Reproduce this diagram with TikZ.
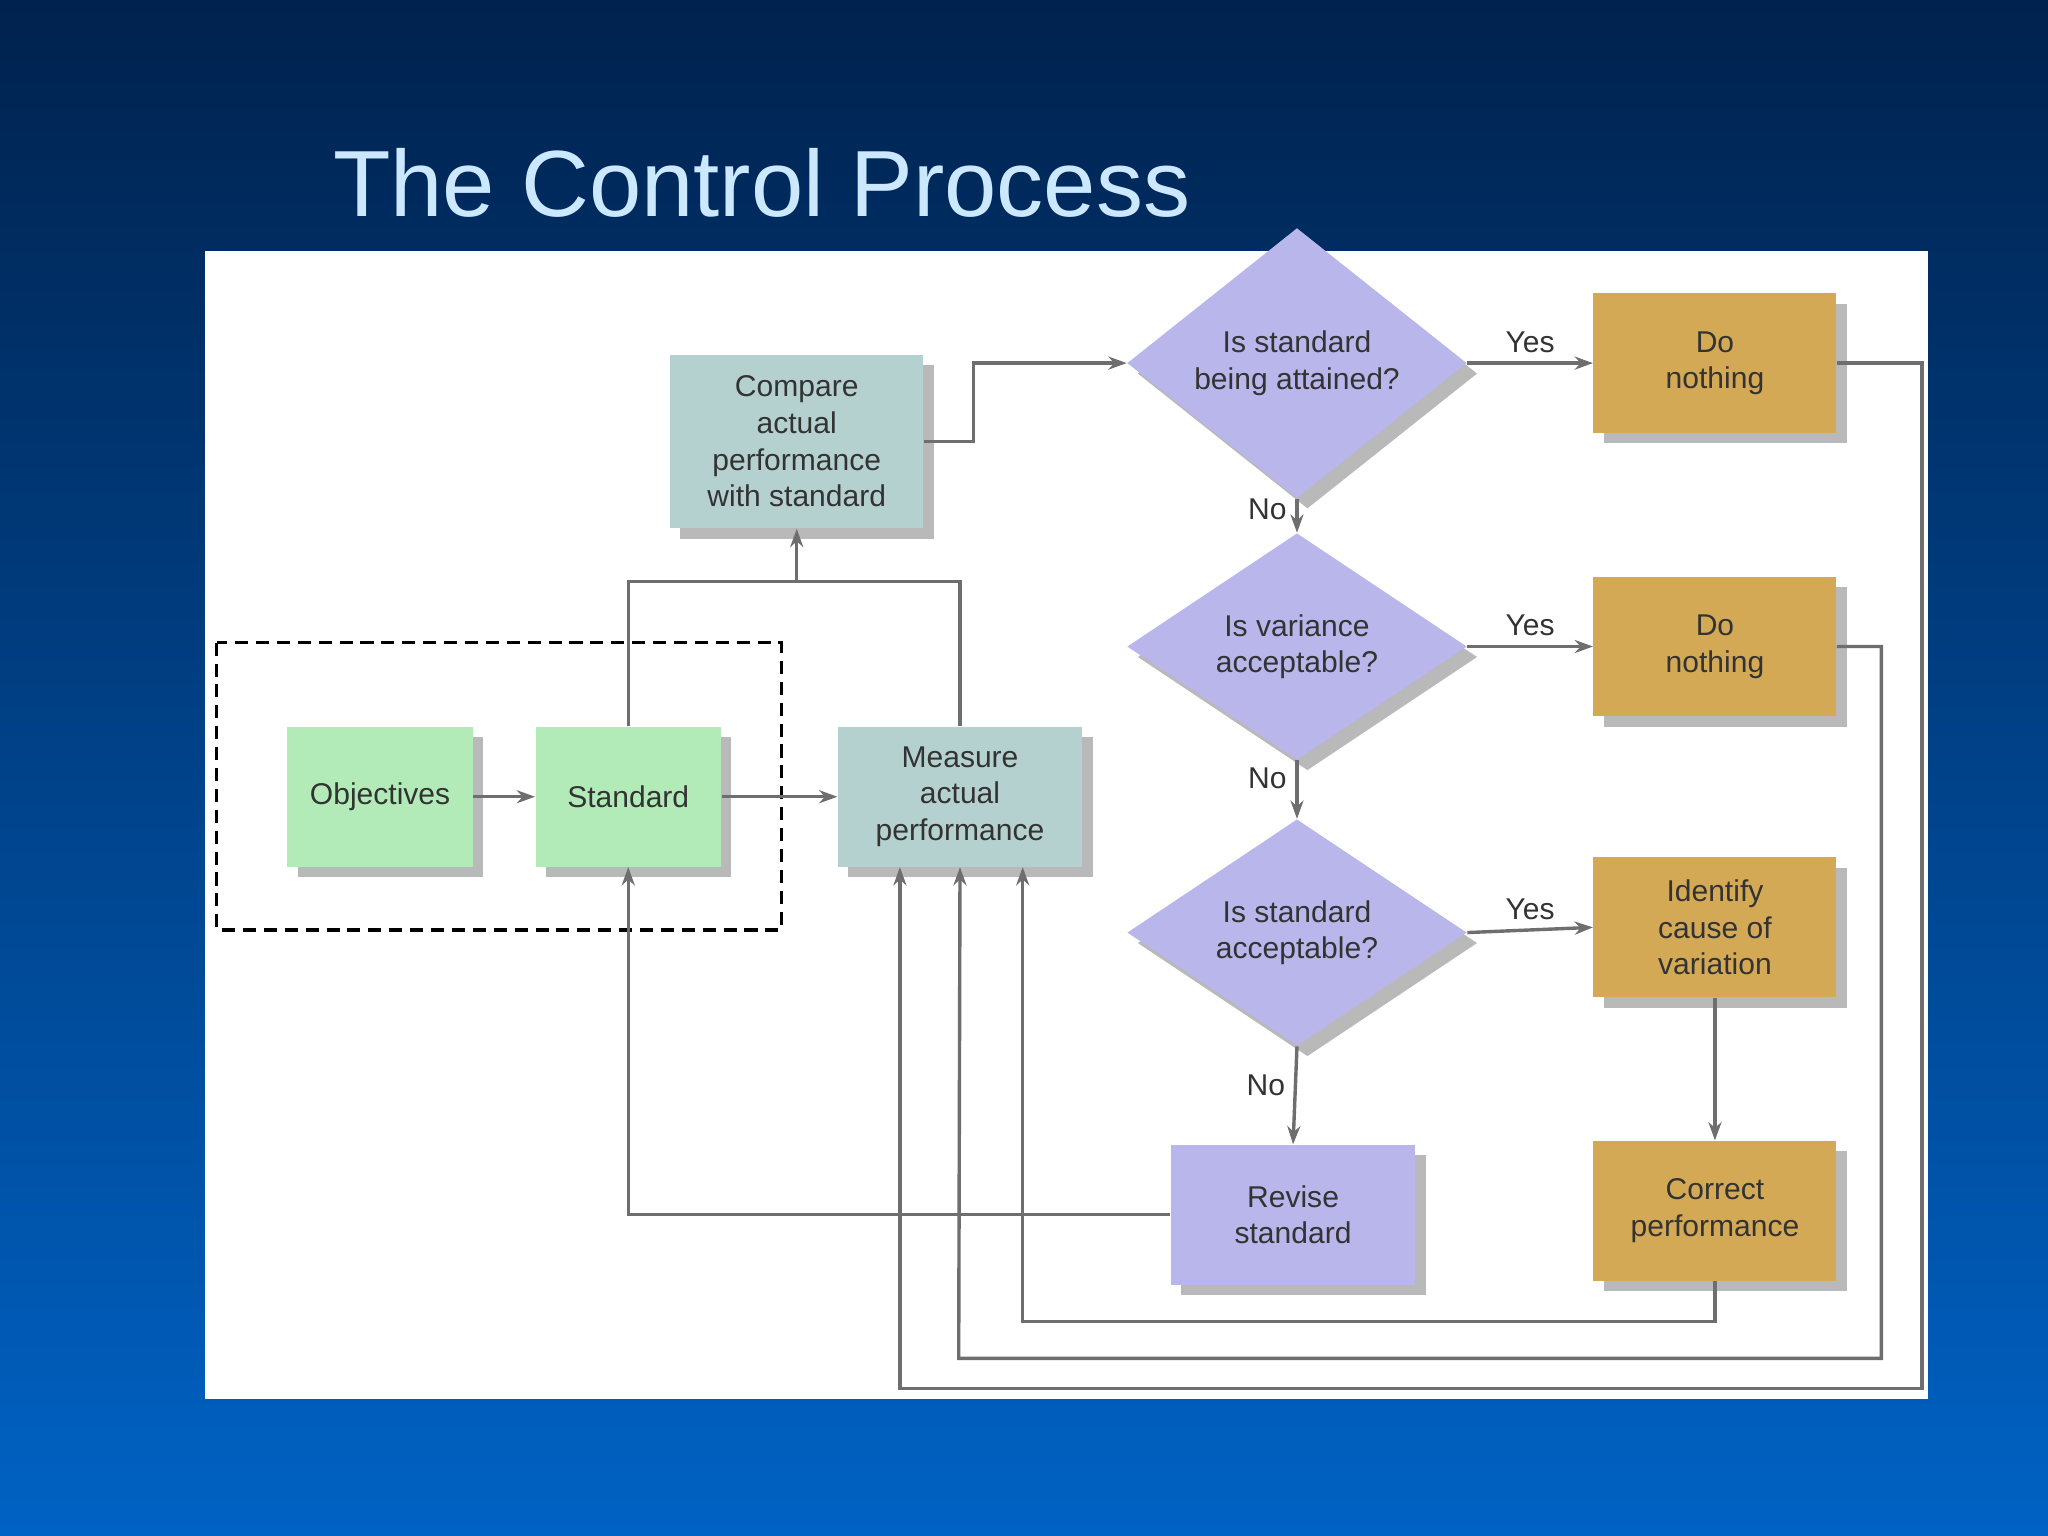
\documentclass[tikz,border=0pt]{standalone}
\usepackage{fontspec}
\setmainfont{Liberation Sans}
\usetikzlibrary{shapes.geometric,shadows,arrows.meta,calc}
\definecolor{grn}{HTML}{B3EBB8}
\definecolor{teal}{HTML}{B5D1CF}
\definecolor{lav}{HTML}{B8B6EA}
\definecolor{gold}{HTML}{D4A956}
\definecolor{ln}{HTML}{6E6E6E}
\definecolor{txt}{HTML}{333333}
\begin{document}
\begin{tikzpicture}[x=0.5pt,y=-0.5pt,
  box/.style={rectangle,draw=none,align=center,text=txt,font=\fontsize{11.5}{14}\selectfont,
    inner sep=0pt,drop shadow={shadow xshift=4pt,shadow yshift=-4pt,fill=gray!55,opacity=1}},
  dia/.style={diamond,fill=lav,align=center,text=txt,font=\fontsize{11.5}{14}\selectfont,
    inner sep=0pt,minimum width=130pt,minimum height=81pt,
    drop shadow={shadow xshift=4pt,shadow yshift=-4pt,fill=gray!55,opacity=1}},
  con/.style={draw=ln,line width=1.3pt},
  arr/.style={con,-{Stealth[length=7pt,width=5pt]}},
  lab/.style={text=txt,font=\fontsize{11.5}{14}\selectfont}]
\useasboundingbox[top color={rgb,255:red,0;green,34;blue,78},bottom color={rgb,255:red,0;green,98;blue,196}] (0,0) rectangle (1568,1176);
\node[text={rgb,255:red,204;green,232;blue,255},font=\fontsize{36}{40}\selectfont,anchor=west] (title) at (248,140) {The Control Process};
\fill[white] (157,192) rectangle (1476,1071);
\draw[black,line width=1.2pt,dash pattern=on 5pt off 3pt] (166,492) rectangle (598,712);
\node[box,fill=grn,minimum width=71pt,minimum height=53.5pt] (obj) at (291,610) {Objectives};
\node[box,fill=grn,minimum width=71pt,minimum height=53.5pt] (std) at (481,610) {Standard};
\node[box,fill=teal,minimum width=93.5pt,minimum height=53.5pt] (meas) at (735,610) {Measure\\actual\\performance};
\node[box,fill=teal,minimum width=97pt,minimum height=66.5pt] (cmp) at (610,338) {Compare\\actual\\performance\\with standard};
\node[dia] (d1) at (993,278) {Is standard\\being attained?};
\node[dia] (d2) at (993,495) {Is variance\\acceptable?};
\node[dia] (d3) at (993,714) {Is standard\\acceptable?};
\node[box,fill=gold,minimum width=93pt,minimum height=53.5pt] (dn1) at (1313,278) {Do\\nothing};
\node[box,fill=gold,minimum width=93pt,minimum height=53.5pt] (dn2) at (1313,495) {Do\\nothing};
\node[box,fill=gold,minimum width=93pt,minimum height=53.5pt] (idc) at (1313,710) {Identify\\cause of\\variation};
\node[box,fill=gold,minimum width=93pt,minimum height=53.5pt] (cor) at (1313,927) {Correct\\performance};
\node[box,fill=lav,minimum width=93.5pt,minimum height=53.5pt] (rev) at (990,930) {Revise\\standard};
\coordinate (j1) at (610,445);
\draw[arr] (obj) -- (std);
\draw[arr] (std) -- (meas);
\draw[con] (std.north) |- (j1) -| (meas.north);
\draw[arr] (j1) -- (cmp.south);
\draw[arr] (cmp.east) -- ++(38,0) |- (d1.west);
\draw[arr] (d1.east) -- node[lab,above]{Yes} (dn1.west);
\draw[arr] (d2.east) -- node[lab,above]{Yes} (dn2.west);
\draw[arr] (d3.east) -- node[lab,above]{Yes} (idc.west);
\draw[arr] (d1.south) -- node[lab,left,pos=0.3]{No} (d2.north);
\draw[arr] (d2.south) -- node[lab,left,pos=0.3]{No} (d3.north);
\draw[arr] (d3.south) -- node[lab,left,pos=0.4]{No} (rev.north);
\draw[arr] (idc) -- (cor);
\draw[arr] (rev.west) -| (std.south);
\draw[arr] (cor.south) -- ++(0,31) -| ([xshift=24pt]meas.south);
\draw[arr] (dn2.east) -- ++(34,0) |- (734,1040) -- (meas.south);
\draw[arr] (dn1.east) -- ++(65,0) |- (689,1063) -- ([xshift=-23pt]meas.south);
\end{tikzpicture}
\end{document}
